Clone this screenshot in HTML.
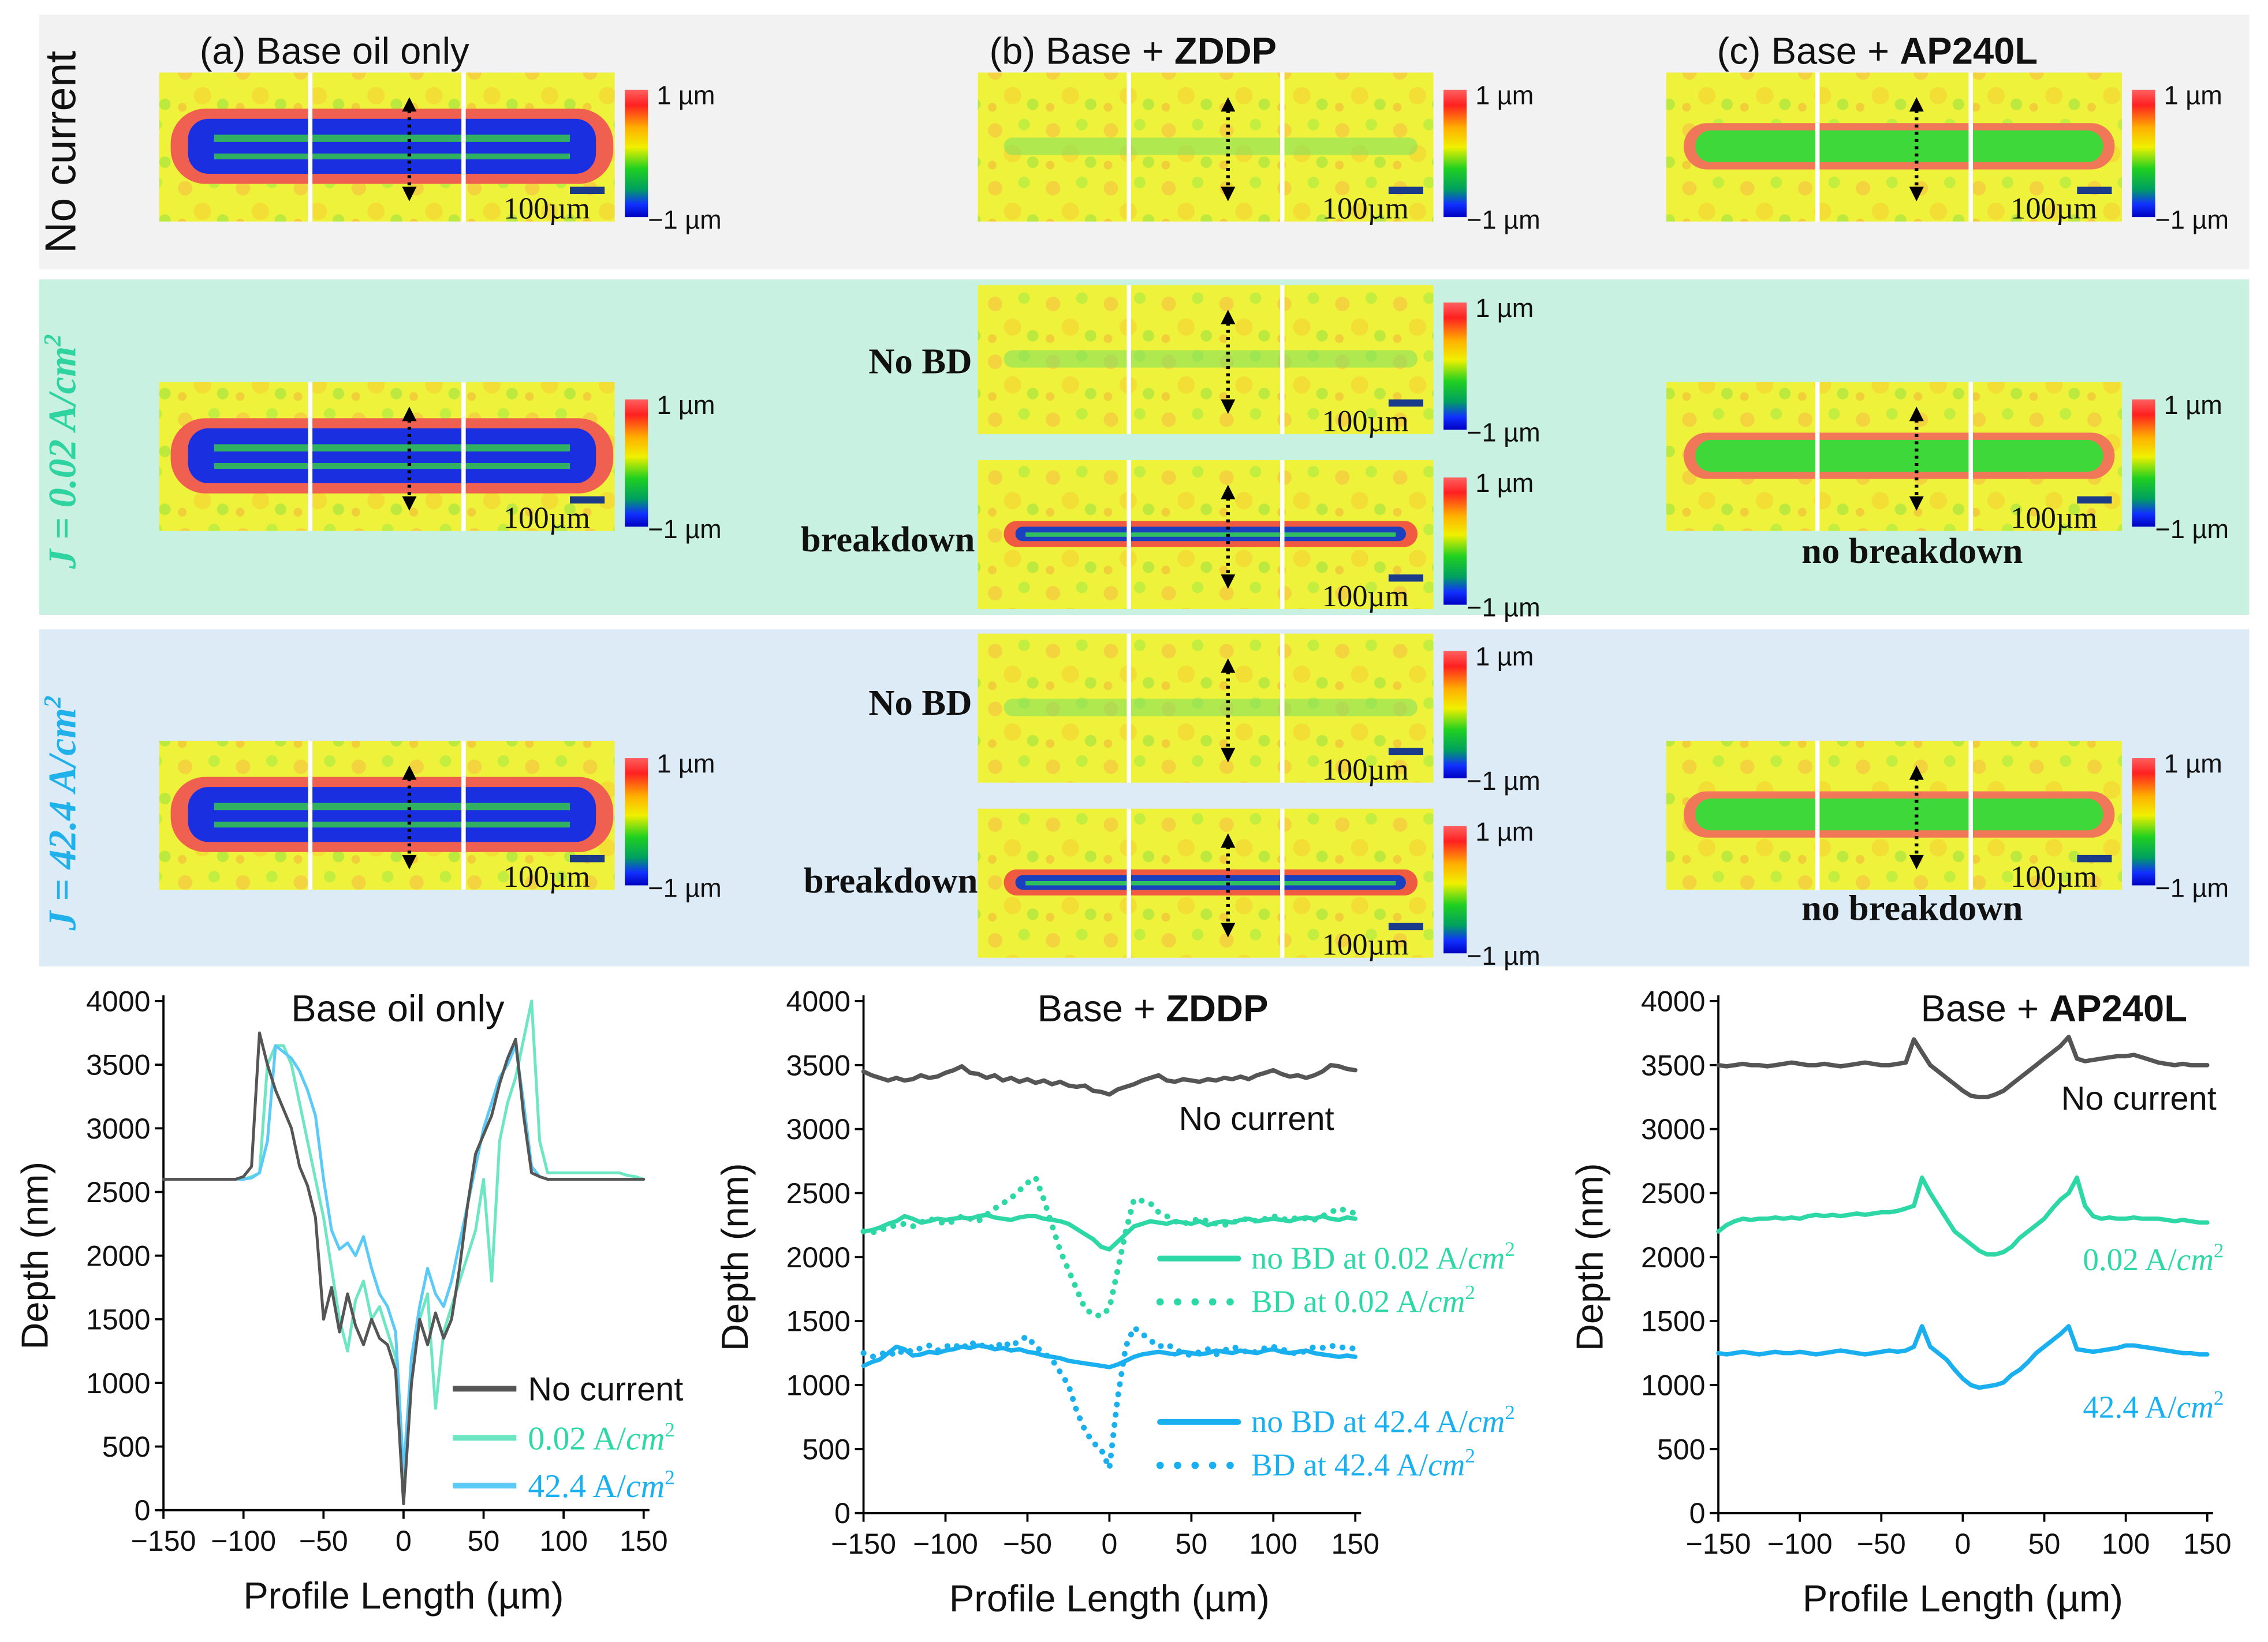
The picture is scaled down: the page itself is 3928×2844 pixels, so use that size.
<!DOCTYPE html>
<html><head><meta charset="utf-8"><style>
html,body{margin:0;padding:0;background:#fff;}
svg{display:block;font-family:"Liberation Sans",sans-serif;}
.serif{font-family:"Liberation Serif",serif;}
</style></head><body>
<svg id="fig" width="3928" height="2844" viewBox="0 0 1568 1135" xmlns="http://www.w3.org/2000/svg">
<defs>
<linearGradient id="cbar" x1="0" y1="0" x2="0" y2="1">
<stop offset="0" stop-color="#ff6060"/><stop offset="0.12" stop-color="#ff2020"/><stop offset="0.3" stop-color="#ffb000"/><stop offset="0.45" stop-color="#f0f000"/><stop offset="0.62" stop-color="#20d020"/><stop offset="0.78" stop-color="#00a060"/><stop offset="0.9" stop-color="#1030ff"/><stop offset="1" stop-color="#0000c0"/>
</linearGradient>
<pattern id="noise" width="40" height="40" patternUnits="userSpaceOnUse">
<rect width="40" height="40" fill="#eef23a"/>
<circle cx="8" cy="10" r="5" fill="#f7c840" opacity="0.7"/>
<circle cx="28" cy="6" r="4" fill="#b8ec40" opacity="0.8"/>
<circle cx="20" cy="26" r="6" fill="#f5d030" opacity="0.6"/>
<circle cx="34" cy="32" r="4" fill="#a8e640" opacity="0.7"/>
<circle cx="6" cy="34" r="3" fill="#f4b838" opacity="0.6"/>
</pattern>
</defs>
<rect x="27" y="10" width="1528" height="176" fill="#f2f2f2"/>
<rect x="27" y="193" width="1528" height="232" fill="#c9f1e1"/>
<rect x="27" y="435" width="1528" height="233" fill="#dcebf6"/>
<text transform="translate(52,105) rotate(-90)" text-anchor="middle" font-size="30" fill="#111">No current</text>
<text class="serif" transform="translate(52,312) rotate(-90)" text-anchor="middle" font-size="27" font-weight="bold" font-style="italic" fill="#2fd3a0">J = 0.02 A/cm<tspan font-size="17" dy="-10">2</tspan></text>
<text class="serif" transform="translate(52,562) rotate(-90)" text-anchor="middle" font-size="27" font-weight="bold" font-style="italic" fill="#20b0ea">J = 42.4 A/cm<tspan font-size="17" dy="-10">2</tspan></text>
<text x="138" y="44" font-size="26" fill="#111">(a)  Base oil only</text>
<text x="684" y="44" font-size="26" fill="#111">(b)  Base + <tspan font-weight="bold">ZDDP</tspan></text>
<text x="1187" y="44" font-size="26" fill="#111">(c)  Base + <tspan font-weight="bold">AP240L</tspan></text>
<g font-family="Liberation Serif" font-weight="bold" font-size="25" fill="#111">
<text x="672" y="258" text-anchor="end">No BD</text>
<text x="674" y="381" text-anchor="end">breakdown</text>
<text x="672" y="494" text-anchor="end">No BD</text>
<text x="676" y="617" text-anchor="end">breakdown</text>
<text x="1322" y="389" text-anchor="middle">no breakdown</text>
<text x="1322" y="636" text-anchor="middle">no breakdown</text>
</g>
<g id="tiles"></g>
<g id="charts"></g>
</svg>
<script>
// ---------- chart data ----------
const profileX = [];
for (let v = -150; v <= 150; v += 5) profileX.push(v);
const yTicks = [0,500,1000,1500,2000,2500,3000,3500,4000];
const xTicks = [-150,-100,-50,0,50,100,150];

const baseNoCurrent = [2600,2600,2600,2600,2600,2600,2600,2600,2600,2600,
 2620,2700,3750,3500,3300,3150,3000,2700,2550,2300,1500,1750,1400,1700,1450,1300,1500,1350,1300,1100,50,1000,1500,1300,1550,1350,1500,1900,2400,2800,2950,3100,3350,3550,3700,3100,2650,2620,
 2600,2600,2600,2600,2600,2600,2600,2600,2600,2600,2600,2600,2600];
const base002 = [2600,2600,2600,2600,2600,2600,2600,2600,2600,2600,
 2600,2620,2650,3500,3650,3650,3500,3200,2900,2600,2300,1900,1500,1250,1650,1800,1500,1600,1400,1200,200,1200,1500,1700,800,1400,1600,1800,2000,2200,2600,1800,2900,3200,3400,3700,4000,2900,
 2650,2650,2650,2650,2650,2650,2650,2650,2650,2650,2630,2620,2600];
const base424 = [2600,2600,2600,2600,2600,2600,2600,2600,2600,2600,
 2600,2610,2650,2900,3650,3600,3550,3450,3300,3100,2600,2200,2050,2100,2000,2150,1900,1700,1600,1400,300,1200,1600,1900,1700,1600,1800,2100,2400,2700,3000,3200,3400,3500,3650,3200,2700,2620,
 2600,2600,2600,2600,2600,2600,2600,2600,2600,2600,2600,2600,2600];

const zddpNoCurrent = [3450,3420,3400,3380,3400,3380,3390,3420,3400,3410,3440,3460,3490,3440,3430,3400,3420,3380,3400,3370,3390,3360,3380,3350,3370,3340,3330,3340,3300,3290,3270,3310,3330,3350,3380,3400,3420,3380,3370,3390,3380,3370,3390,3380,3400,3390,3410,3390,3420,3440,3460,3430,3410,3420,3400,3420,3450,3500,3490,3470,3460];
const zddpNoBD002 = [2200,2210,2230,2260,2280,2320,2300,2270,2280,2300,2290,2300,2310,2300,2320,2330,2310,2300,2290,2310,2320,2320,2300,2290,2280,2260,2220,2180,2140,2080,2060,2120,2180,2240,2260,2280,2270,2260,2280,2270,2260,2280,2250,2270,2280,2270,2290,2300,2280,2290,2300,2290,2280,2300,2310,2300,2320,2300,2290,2310,2300];
const zddpBD002 = [2200,2190,2210,2230,2250,2260,2240,2270,2300,2280,2260,2280,2320,2300,2280,2330,2380,2420,2460,2520,2580,2620,2450,2250,2050,1900,1750,1600,1550,1540,1600,1900,2200,2450,2440,2420,2350,2320,2280,2260,2280,2300,2280,2260,2250,2270,2290,2300,2280,2300,2320,2300,2290,2310,2300,2290,2320,2350,2380,2360,2340];
const zddpNoBD424 = [1150,1180,1200,1250,1300,1280,1230,1240,1260,1250,1270,1280,1300,1290,1310,1300,1280,1290,1270,1280,1260,1250,1230,1220,1210,1190,1180,1170,1160,1150,1140,1160,1190,1220,1240,1250,1260,1250,1240,1260,1250,1240,1250,1270,1260,1250,1270,1260,1250,1270,1280,1260,1250,1260,1270,1250,1240,1230,1220,1230,1220];
const zddpBD424 = [1250,1220,1240,1260,1230,1280,1260,1290,1310,1270,1300,1320,1280,1340,1300,1320,1280,1340,1300,1350,1380,1300,1250,1200,1100,1000,800,650,550,500,350,900,1300,1450,1400,1350,1300,1320,1280,1250,1230,1260,1280,1240,1270,1300,1280,1250,1260,1290,1300,1280,1260,1240,1270,1300,1290,1310,1290,1300,1280];

const apNoCurrent = [3500,3490,3500,3510,3500,3500,3490,3500,3510,3520,3510,3500,3500,3510,3500,3490,3500,3510,3520,3510,3500,3500,3510,
 3520,3700,3600,3500,3450,3400,3350,3300,3260,3250,3250,3270,3300,3350,3400,3450,3500,3550,3600,3650,3720,3550,3530,3540,3550,3560,3570,3570,3580,3560,3540,3520,3510,3500,3510,3500,3500,3500];
const ap002 = [2200,2250,2280,2300,2290,2300,2300,2310,2300,2310,2300,2320,2330,2320,2330,2320,2330,2340,2330,2340,2350,2350,2360,2380,2400,2620,2500,2400,2300,2200,2150,2100,2050,2020,2020,2040,2080,2150,2200,2250,2300,2380,2450,2500,2620,2400,2320,2300,2310,2300,2300,2310,2300,2300,2300,2290,2280,2290,2280,2270,2270];
const ap424 = [1250,1240,1250,1260,1250,1240,1250,1260,1250,1250,1260,1250,1240,1250,1260,1270,1260,1250,1240,1250,1260,1270,1260,
 1270,1300,1460,1300,1250,1200,1120,1050,1000,980,990,1000,1020,1080,1120,1180,1250,1300,1350,1400,1460,1280,1270,1260,1270,1280,1290,1310,1310,1300,1290,1280,1270,1260,1250,1250,1240,1240];

const NS = "http://www.w3.org/2000/svg";
function mk(tag, attrs, parent) {
  const e = document.createElementNS(NS, tag);
  for (const k in attrs) e.setAttribute(k, attrs[k]);
  parent.appendChild(e);
  return e;
}
const GRAY = "#555555", TEAL = "#2ed8a6", BLUE = "#1ab0ef", TEAL_L = "#6ee6c4", BLUE_L = "#5ccaf6";

function drawChart(cfg) {
  const g = mk("g", {}, document.getElementById("charts"));
  
  
  const sx = v => cfg.x0 + (v + 150) / 300 * (cfg.x1 - cfg.x0);
  const sy = v => cfg.yb - v / 4000 * (cfg.yb - cfg.yt);
  const ax = mk("path", {d:`M${cfg.x0},${cfg.yt-4} L${cfg.x0},${cfg.yb} L${cfg.x1+4},${cfg.yb}`, fill:"none", stroke:"#000", "stroke-width":1.5}, g);
  
  
  yTicks.forEach(t => {
    mk("line", {x1:cfg.x0-6, x2:cfg.x0, y1:sy(t), y2:sy(t), stroke:"#000", "stroke-width":1.5}, g);
    const tx = mk("text", {x:cfg.x0-9, y:sy(t)+7, "text-anchor":"end", "font-size":20, fill:"#111"}, g);
    tx.textContent = t;
    
    
  });
  xTicks.forEach(t => {
    mk("line", {x1:sx(t), x2:sx(t), y1:cfg.yb, y2:cfg.yb+6, stroke:"#000", "stroke-width":1.5}, g);
    const tx = mk("text", {x:sx(t), y:cfg.yb+28, "text-anchor":"middle", "font-size":20, fill:"#111"}, g);
    tx.textContent = (t < 0 ? "\u2212" + (-t) : t);
    
    
  });
  const yt = mk("text", {transform:`translate(${cfg.x0-80},${(cfg.yt+cfg.yb)/2}) rotate(-90)`, "text-anchor":"middle", "font-size":26, fill:"#111"}, g);
  yt.textContent = "Depth (nm)";
  
  
  const xt = mk("text", {x:(cfg.x0+cfg.x1)/2, y:cfg.yb+68, "text-anchor":"middle", "font-size":26, fill:"#111"}, g);
  xt.textContent = "Profile Length (\u00b5m)";
  
  
  cfg.series.forEach(s => {
    const d = profileX.map((x, i) => (i ? "L" : "M") + sx(x).toFixed(1) + "," + sy(s.data[i]).toFixed(1)).join(" ");
    const p = mk("path", {d, fill:"none", stroke:s.color, "stroke-width":s.w || 3, "stroke-linejoin":"round", "stroke-linecap":"round"}, g);
    if (s.dash) p.setAttribute("stroke-dasharray", "0.1 7");
    
    
  });
  return g;
}

const c1 = drawChart({name:"chart-base-oil", x0:113, x1:445, yt:692, yb:1044, series:[
  {name:"line-base-0.02", data:base002, color:TEAL_L, w:2},
  {name:"line-base-42.4", data:base424, color:BLUE_L, w:2},
  {name:"line-base-no-current", data:baseNoCurrent, color:GRAY, w:2}]});
const c2 = drawChart({name:"chart-zddp", x0:597, x1:937, yt:692, yb:1046, series:[
  {name:"line-zddp-no-current", data:zddpNoCurrent, color:GRAY},
  {name:"line-zddp-nobd-0.02", data:zddpNoBD002, color:TEAL},
  {name:"line-zddp-bd-0.02", data:zddpBD002, color:TEAL, dash:true, w:4},
  {name:"line-zddp-nobd-42.4", data:zddpNoBD424, color:BLUE},
  {name:"line-zddp-bd-42.4", data:zddpBD424, color:BLUE, dash:true, w:4}]});
const c3 = drawChart({name:"chart-ap240l", x0:1188, x1:1526, yt:692, yb:1046, series:[
  {name:"line-ap-no-current", data:apNoCurrent, color:GRAY},
  {name:"line-ap-0.02", data:ap002, color:TEAL},
  {name:"line-ap-42.4", data:ap424, color:BLUE}]});

function txt(parent, name, x, y, html, attrs) {
  const t = mk("text", Object.assign({x, y, "font-size":24, fill:"#111"}, attrs || {}), parent);
  t.innerHTML = html;
  
  
  return t;
}
const cm2 = 'A/<tspan font-style="italic">cm</tspan><tspan font-size="14" dy="-9">2</tspan>';
txt(c1, "chart-title", 275, 706, "Base oil only", {"text-anchor":"middle", "font-size":26});
txt(c2, "chart-title", 797, 706, 'Base + <tspan font-weight="bold">ZDDP</tspan>', {"text-anchor":"middle", "font-size":26});
txt(c3, "chart-title", 1420, 706, 'Base + <tspan font-weight="bold">AP240L</tspan>', {"text-anchor":"middle", "font-size":26});
[[GRAY,960,"No current",{}],[TEAL_L,994,"0.02 "+cm2,{class:"serif",fill:TEAL}],[BLUE_L,1027,"42.4 "+cm2,{class:"serif",fill:BLUE}]].forEach(l => {
  const ln = mk("line", {x1:313, x2:357, y1:l[1], y2:l[1], stroke:l[0], "stroke-width":4}, c1);
  
  
  txt(c1, "legend-entry", 365, l[1]+8, l[2], Object.assign({"font-size":23}, l[3]));
});
txt(c2, "label-no-current", 815, 781, "No current", {"font-size":23});
[[TEAL,870,false,"no BD at 0.02 "+cm2],[TEAL,900,true,"BD at 0.02 "+cm2],[BLUE,983,false,"no BD at 42.4 "+cm2],[BLUE,1013,true,"BD at 42.4 "+cm2]].forEach(l => {
  const ln = mk("line", {x1:802, x2:856, y1:l[1], y2:l[1], stroke:l[0], "stroke-width":l[2]?5:4, "stroke-linecap":"round"}, c2);
  if (l[2]) ln.setAttribute("stroke-dasharray", "0.1 12");
  
  
  txt(c2, "legend-entry", 865, l[1]+7, l[3], {class:"serif", fill:l[0], "font-size":22});
});
txt(c3, "label-no-current", 1425, 767, "No current", {"font-size":23});
txt(c3, "label-0.02", 1440, 878, "0.02 "+cm2, {class:"serif", fill:TEAL, "font-size":22});
txt(c3, "label-42.4", 1440, 980, "42.4 "+cm2, {class:"serif", fill:BLUE, "font-size":22});

// ---------- micrograph tiles ----------
const tilesG = document.getElementById("tiles");
function tileSet(name, x0, y0, type) {
  const g = mk("g", {}, tilesG);
  
  
  for (let i = 0; i < 3; i++) {
    const r = mk("rect", {x:x0 + i*106, y:y0, width:103, height:103, fill:"url(#noise)"}, g);
    
    
  }
  const cy = y0 + 51, L = x0 + 8, W = 306;
  if (type === "a") {
    mk("rect", {x:L, y:cy-26, width:W, height:52, rx:24, fill:"#f06050"}, g);
    mk("rect", {x:L+12, y:cy-19, width:W-24, height:38, rx:14, fill:"#1a30e0"}, g);
    mk("rect", {x:L+30, y:cy-8, width:W-60, height:5, fill:"#30b060"}, g);
    mk("rect", {x:L+30, y:cy+5, width:W-60, height:4, fill:"#30b060"}, g);
  } else if (type === "zn") {
    mk("rect", {x:L+10, y:cy-6, width:W-20, height:12, rx:6, fill:"#7ee060", opacity:0.55}, g);
  } else if (type === "zb") {
    mk("rect", {x:L+10, y:cy-9, width:W-20, height:18, rx:9, fill:"#f05a40"}, g);
    mk("rect", {x:L+18, y:cy-5, width:W-36, height:10, rx:5, fill:"#1a40c0"}, g);
    mk("rect", {x:L+25, y:cy-1, width:W-50, height:3, fill:"#30c060"}, g);
  } else {
    mk("rect", {x:L+4, y:cy-16, width:W-8, height:32, rx:16, fill:"#f07858"}, g);
    mk("rect", {x:L+12, y:cy-11, width:W-24, height:22, rx:11, fill:"#3ed83a"}, g);
  }
  for (let i = 1; i < 3; i++) mk("rect", {x:x0 + i*106 - 3, y:y0, width:3, height:103, fill:"#fff"}, g);
  const ax = x0 + 173;
  const a = mk("line", {x1:ax, x2:ax, y1:y0+26, y2:y0+80, stroke:"#000", "stroke-width":2.5, "stroke-dasharray":"2 3"}, g);
  
  
  mk("path", {d:`M${ax-5},${y0+27} L${ax},${y0+17} L${ax+5},${y0+27} Z M${ax-5},${y0+79} L${ax},${y0+89} L${ax+5},${y0+79} Z`, fill:"#000"}, g);
  const sb = mk("rect", {x:x0+284, y:y0+79, width:24, height:5, fill:"#1a3a8a"}, g);
  
  
  txt(g, "scale-label", x0+238, y0+101, "100\u00b5m", {class:"serif", "font-size":21});
  const cb = mk("rect", {x:x0+322, y:y0+12, width:16, height:88, fill:"url(#cbar)"}, g);
  
  
  txt(g, "colorbar-max", x0+344, y0+22, "1 \u00b5m", {"font-size":18});
  txt(g, "colorbar-min", x0+338, y0+108, "\u22121 \u00b5m", {"font-size":18});
}
tileSet("tiles-a-no-current", 110, 50, "a");
tileSet("tiles-b-no-current", 676, 50, "zn");
tileSet("tiles-c-no-current", 1152, 50, "c");
tileSet("tiles-a-0.02", 110, 264, "a");
tileSet("tiles-b-0.02-nobd", 676, 197, "zn");
tileSet("tiles-b-0.02-bd", 676, 318, "zb");
tileSet("tiles-c-0.02", 1152, 264, "c");
tileSet("tiles-a-42.4", 110, 512, "a");
tileSet("tiles-b-42.4-nobd", 676, 438, "zn");
tileSet("tiles-b-42.4-bd", 676, 559, "zb");
tileSet("tiles-c-42.4", 1152, 512, "c");
</script>
</body></html>
